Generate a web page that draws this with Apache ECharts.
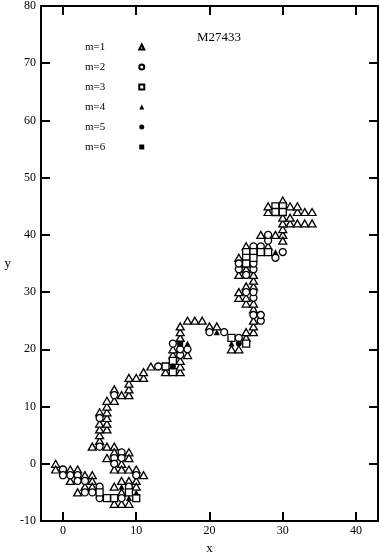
<!DOCTYPE html>
<html>
<head>
<meta charset="utf-8">
<script src="https://cdn.jsdelivr.net/npm/echarts@6/dist/echarts.min.js"></script>
<style>html,body{margin:0;padding:0;background:#fff}#main{width:380px;height:553px}</style>
</head>
<body>
<div id="main"></div>
<script>
// sites visited, by multiplicity m
var m1 = [[-1,0],[-1,-1],[1,-1],[1,-3],[2,-1],[2,-5],[3,-2],[3,-4],[4,-2],[4,-3],[4,-4],
  [4,3],[6,3],[7,3],[5,4],[7,2],[9,2],[6,1],[9,1],[8,0],[7,-1],[8,-1],[9,-1],[10,-1],[11,-2],
  [8,-3],[9,-3],[10,-3],[7,-4],[10,-4],[8,-5],[7,-7],[8,-7],[9,-7],
  [5,5],[5,6],[5,7],[5,9],[6,6],[6,7],[6,8],[6,9],[6,10],[6,11],[7,11],[7,13],[8,12],[9,12],
  [9,13],[9,14],[9,15],[10,15],[11,15],[11,16],[12,17],[14,16],[16,16],[16,17],[16,18],
  [15,19],[17,19],[15,20],[16,22],[16,23],[16,24],[20,24],[21,24],[17,25],[18,25],[19,25],
  [23,20],[24,20],[25,22],[25,23],[26,23],[26,24],[26,25],[26,27],[25,28],[26,28],[24,29],
  [25,29],[24,30],[25,31],[26,31],[26,32],[24,33],[26,33],[25,34],[24,36],[25,38],[28,38],
  [27,40],[29,40],[30,40],[30,39],[30,41],[30,42],[31,42],[32,42],[33,42],[34,42],[30,43],
  [31,43],[28,44],[32,44],[33,44],[34,44],[28,45],[31,45],[32,45],[30,46]];
var m2 = [[0,-1],[0,-2],[1,-2],[2,-2],[2,-3],[3,-3],[3,-5],[4,-5],[5,-4],[5,-6],[5,3],[8,2],
  [7,1],[8,1],[7,0],[10,-2],[9,-4],[8,-6],[5,8],[7,12],[13,17],[16,19],[16,20],[17,20],
  [15,21],[20,23],[22,23],[24,22],[27,25],[26,26],[27,26],[26,29],[25,30],[26,30],[25,33],
  [24,34],[26,34],[24,35],[26,35],[26,38],[27,38],[29,36],[30,37],[28,39],[28,40]];
var m3 = [[5,-5],[6,-6],[7,-6],[9,-5],[10,-6],[14,17],[15,18],[15,16],[23,22],[25,21],
  [25,37],[26,37],[27,37],[28,37],[25,36],[26,36],[25,35],[29,45],[30,45],[29,44],[30,44]];
var m4 = [[8,-4],[10,-5],[9,-6],[17,21],[21,23],[23,21],[29,37]];
var m5 = [[15,17],[24,21]];
var m6 = [[16,21]];

var names = ['m=1', 'm=2', 'm=3', 'm=4', 'm=5', 'm=6'];
var xTicks = [0, 10, 20, 30, 40];
var serif = 'Liberation Serif';

var chart = echarts.init(document.getElementById('main'));

function mk(name, data, symbol, size, fill) {
    return {
        name: name,
        type: 'scatter',
        data: data,
        symbol: symbol,
        symbolSize: size,
        itemStyle: fill
            ? { color: '#000', borderWidth: 0, opacity: 1 }
            : { color: '#fff', borderColor: '#000', borderWidth: 1.3, opacity: 1 },
        emphasis: { disabled: true },
        animation: false
    };
}

function axisStyle() {
    return {
        axisLine: { onZero: false, lineStyle: { color: '#000', width: 2 } },
        axisTick: { inside: true, length: 9, lineStyle: { color: '#000', width: 2 } },
        splitLine: { show: false }
    };
}

var xBase = axisStyle();
var yBase = axisStyle();

var option = {
    animation: false,
    grid: { left: 41, right: 2, top: 6, bottom: 32, outerBoundsMode: 'none', containLabel: false },
    title: {
        text: 'M27433', left: 192, top: 26,
        textStyle: { fontFamily: serif, fontSize: 13, fontWeight: 'normal', color: '#000' }
    },
    legend: {
        orient: 'vertical', left: 80, top: 35, align: 'right',
        itemWidth: 5, itemHeight: 5, itemGap: 6,
        textStyle: { fontFamily: serif, fontSize: 11, color: '#000', lineHeight: 14, padding: [0, 29, 0, 0] },
        data: names
    },
    xAxis: [
        Object.assign({}, xBase, {
            type: 'value', min: -3, max: 43, position: 'bottom',
            axisTick: Object.assign({}, xBase.axisTick, { customValues: xTicks }),
            axisLabel: { customValues: xTicks, color: '#000', fontFamily: serif, fontSize: 12, margin: 4 },
            name: 'x', nameLocation: 'middle', nameGap: 13,
            nameTextStyle: { fontFamily: serif, fontSize: 13, color: '#000' }
        }),
        Object.assign({}, xBase, {
            type: 'value', min: -3, max: 43, position: 'top',
            axisTick: Object.assign({}, xBase.axisTick, { customValues: xTicks }),
            axisLabel: { show: false }
        })
    ],
    yAxis: [
        Object.assign({}, yBase, {
            type: 'value', min: -10, max: 80, interval: 10, position: 'left',
            axisLabel: { color: '#000', fontFamily: serif, fontSize: 12, margin: 5 },
            name: 'y', nameLocation: 'middle', nameGap: 30, nameRotate: 0,
            nameTextStyle: { fontFamily: serif, fontSize: 13, color: '#000', padding: [6, 0, 0, 0] }
        }),
        Object.assign({}, yBase, {
            type: 'value', min: -10, max: 80, interval: 10, position: 'right',
            axisLabel: { show: false }
        })
    ],
    series: [
        mk(names[0], m1, 'triangle', [8, 7], false),
        mk(names[1], m2, 'circle', 7, false),
        mk(names[2], m3, 'rect', 7, false),
        mk(names[3], m4, 'triangle', [6, 6], true),
        mk(names[4], m5, 'circle', 6, true),
        mk(names[5], m6, 'rect', 6, true)
    ]
};
chart.setOption(option);
</script>
</body>
</html>
